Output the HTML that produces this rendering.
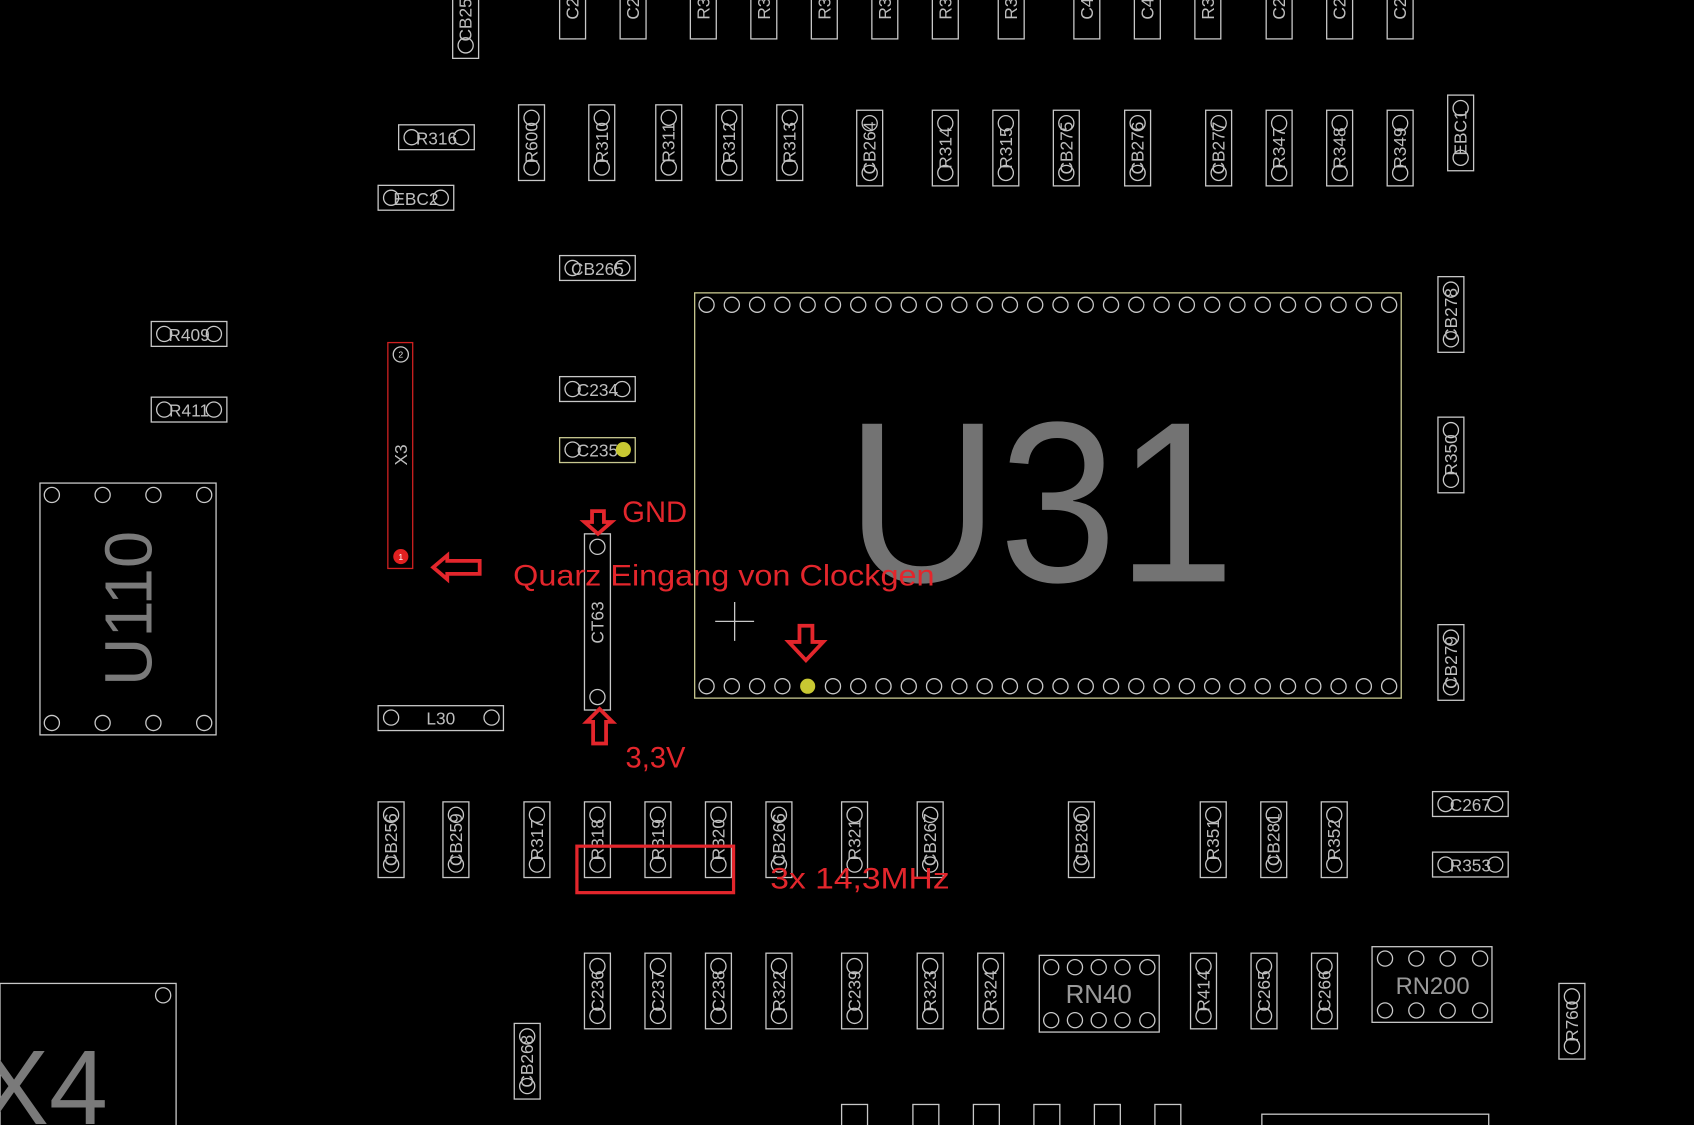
<!DOCTYPE html>
<html><head><meta charset="utf-8"><style>
html,body{margin:0;padding:0;background:#000;width:1694px;height:1125px;overflow:hidden}
svg{display:block}
.c rect,.c circle{fill:none;stroke:#c8c8c8;stroke-width:1.2}
text{font-family:"Liberation Sans",sans-serif}
.l{fill:#bdbdbd;font-size:16px;text-anchor:middle;dominant-baseline:central}
.a{fill:#e3262c;font-size:27px}
.ar{fill:none;stroke:#e3262c;stroke-width:3.5;stroke-linejoin:miter}
</style></head><body>
<svg width="1694" height="1125" viewBox="0 0 1568 1041" preserveAspectRatio="none">
<defs>
<g id="v" class="c"><rect x="-12" y="-35" width="24" height="70"/><circle cx="0" cy="-23" r="7"/><circle cx="0" cy="23" r="7"/></g>
<g id="h" class="c"><rect x="-35" y="-11.5" width="70" height="23"/><circle cx="-23" cy="0" r="7"/><circle cx="23" cy="0" r="7"/></g>
</defs>
<rect width="1568" height="1041" fill="#000"/>
<g class="c">
<rect x="419" y="-10" width="24" height="64"/><circle cx="431" cy="42" r="7"/>
<rect x="518" y="-10" width="24" height="46"/><rect x="574" y="-10" width="24" height="46"/>
<rect x="639" y="-10" width="24" height="46"/><rect x="695" y="-10" width="24" height="46"/>
<rect x="751" y="-10" width="24" height="46"/><rect x="807" y="-10" width="24" height="46"/>
<rect x="863" y="-10" width="24" height="46"/><rect x="924" y="-10" width="24" height="46"/>
<rect x="994" y="-10" width="24" height="46"/><rect x="1050" y="-10" width="24" height="46"/>
<rect x="1106" y="-10" width="24" height="46"/><rect x="1172" y="-10" width="24" height="46"/>
<rect x="1228" y="-10" width="24" height="46"/><rect x="1284" y="-10" width="24" height="46"/>
</g>
<text class="l" transform="translate(431,14) rotate(-90)">CB250</text>
<text class="l" transform="translate(530,8) rotate(-90)">C2</text>
<text class="l" transform="translate(586,8) rotate(-90)">C2</text>
<text class="l" transform="translate(651,8) rotate(-90)">R3</text>
<text class="l" transform="translate(707,8) rotate(-90)">R3</text>
<text class="l" transform="translate(763,8) rotate(-90)">R3</text>
<text class="l" transform="translate(819,8) rotate(-90)">R3</text>
<text class="l" transform="translate(875,8) rotate(-90)">R3</text>
<text class="l" transform="translate(936,8) rotate(-90)">R3</text>
<text class="l" transform="translate(1006,8) rotate(-90)">C4</text>
<text class="l" transform="translate(1062,8) rotate(-90)">C4</text>
<text class="l" transform="translate(1118,8) rotate(-90)">R3</text>
<text class="l" transform="translate(1184,8) rotate(-90)">C2</text>
<text class="l" transform="translate(1240,8) rotate(-90)">C2</text>
<text class="l" transform="translate(1296,8) rotate(-90)">C2</text>
<use href="#v" x="492" y="132"/><text class="l" transform="translate(492,132) rotate(-90)">R600</text>
<use href="#v" x="557" y="132"/><text class="l" transform="translate(557,132) rotate(-90)">R310</text>
<use href="#v" x="619" y="132"/><text class="l" transform="translate(619,132) rotate(-90)">R311</text>
<use href="#v" x="675" y="132"/><text class="l" transform="translate(675,132) rotate(-90)">R312</text>
<use href="#v" x="731" y="132"/><text class="l" transform="translate(731,132) rotate(-90)">R313</text>
<use href="#v" x="805" y="137"/><text class="l" transform="translate(805,137) rotate(-90)">CB264</text>
<use href="#v" x="875" y="137"/><text class="l" transform="translate(875,137) rotate(-90)">R314</text>
<use href="#v" x="931" y="137"/><text class="l" transform="translate(931,137) rotate(-90)">R315</text>
<use href="#v" x="987" y="137"/><text class="l" transform="translate(987,137) rotate(-90)">CB275</text>
<use href="#v" x="1053" y="137"/><text class="l" transform="translate(1053,137) rotate(-90)">CB276</text>
<use href="#v" x="1128" y="137"/><text class="l" transform="translate(1128,137) rotate(-90)">CB277</text>
<use href="#v" x="1184" y="137"/><text class="l" transform="translate(1184,137) rotate(-90)">R347</text>
<use href="#v" x="1240" y="137"/><text class="l" transform="translate(1240,137) rotate(-90)">R348</text>
<use href="#v" x="1296" y="137"/><text class="l" transform="translate(1296,137) rotate(-90)">R349</text>
<use href="#v" x="1352" y="123"/><text class="l" transform="translate(1352,123) rotate(-90)">EBC1</text>
<use href="#h" x="404" y="127"/><text class="l" x="404" y="128">R316</text>
<use href="#h" x="385" y="183"/><text class="l" x="385" y="184">EBC2</text>
<use href="#h" x="553" y="248"/><text class="l" x="553" y="249">CB265</text>
<use href="#h" x="175" y="309"/><text class="l" x="175" y="310">R409</text>
<use href="#h" x="175" y="379"/><text class="l" x="175" y="380">R411</text>
<use href="#h" x="553" y="360"/><text class="l" x="553" y="361">C234</text>
<rect x="518" y="405" width="70" height="23" fill="none" stroke="#c8c890" stroke-width="1.2"/>
<circle cx="530" cy="416" r="7" fill="none" stroke="#c8c8c8" stroke-width="1.2"/>
<text class="l" x="553" y="417">C235</text>
<circle cx="577" cy="416" r="7" fill="#c8c832"/>
<g class="c"><rect x="350" y="653" width="116" height="23"/><circle cx="362" cy="664" r="7"/><circle cx="455" cy="664" r="7"/></g>
<text class="l" x="408" y="665">L30</text>
<rect x="359" y="317" width="23" height="209" fill="none" stroke="#d02020" stroke-width="1.2"/>
<circle cx="371" cy="328" r="7" fill="none" stroke="#c8c8c8" stroke-width="1.2"/>
<text x="371" y="331" font-size="8" fill="#ddd" text-anchor="middle">2</text>
<circle cx="371" cy="515" r="7" fill="#e02020"/>
<text x="371" y="518" font-size="8" fill="#fff" text-anchor="middle">1</text>
<text class="l" transform="translate(371,421) rotate(-90)">X3</text>
<g class="c"><rect x="37" y="447" width="163" height="233"/>
<circle cx="48" cy="458" r="7"/><circle cx="95" cy="458" r="7"/><circle cx="142" cy="458" r="7"/><circle cx="189" cy="458" r="7"/>
<circle cx="48" cy="669" r="7"/><circle cx="95" cy="669" r="7"/><circle cx="142" cy="669" r="7"/><circle cx="189" cy="669" r="7"/></g>
<text transform="translate(140,563) rotate(-90)" font-size="62" fill="#7a7a7a" text-anchor="middle">U110</text>
<rect x="643" y="271" width="654" height="375" fill="none" stroke="#c8c890" stroke-width="1.2"/>
<g class="c">
<circle cx="654" cy="282" r="7"/><circle cx="677.4" cy="282" r="7"/><circle cx="700.8" cy="282" r="7"/><circle cx="724.2" cy="282" r="7"/><circle cx="747.6" cy="282" r="7"/><circle cx="771" cy="282" r="7"/><circle cx="794.4" cy="282" r="7"/><circle cx="817.8" cy="282" r="7"/><circle cx="841.2" cy="282" r="7"/><circle cx="864.6" cy="282" r="7"/><circle cx="888" cy="282" r="7"/><circle cx="911.4" cy="282" r="7"/><circle cx="934.8" cy="282" r="7"/><circle cx="958.2" cy="282" r="7"/><circle cx="981.6" cy="282" r="7"/><circle cx="1005" cy="282" r="7"/><circle cx="1028.4" cy="282" r="7"/><circle cx="1051.8" cy="282" r="7"/><circle cx="1075.2" cy="282" r="7"/><circle cx="1098.6" cy="282" r="7"/><circle cx="1122" cy="282" r="7"/><circle cx="1145.4" cy="282" r="7"/><circle cx="1168.8" cy="282" r="7"/><circle cx="1192.2" cy="282" r="7"/><circle cx="1215.6" cy="282" r="7"/><circle cx="1239" cy="282" r="7"/><circle cx="1262.4" cy="282" r="7"/><circle cx="1285.8" cy="282" r="7"/>
<circle cx="654" cy="635" r="7"/><circle cx="677.4" cy="635" r="7"/><circle cx="700.8" cy="635" r="7"/><circle cx="724.2" cy="635" r="7"/><circle cx="771" cy="635" r="7"/><circle cx="794.4" cy="635" r="7"/><circle cx="817.8" cy="635" r="7"/><circle cx="841.2" cy="635" r="7"/><circle cx="864.6" cy="635" r="7"/><circle cx="888" cy="635" r="7"/><circle cx="911.4" cy="635" r="7"/><circle cx="934.8" cy="635" r="7"/><circle cx="958.2" cy="635" r="7"/><circle cx="981.6" cy="635" r="7"/><circle cx="1005" cy="635" r="7"/><circle cx="1028.4" cy="635" r="7"/><circle cx="1051.8" cy="635" r="7"/><circle cx="1075.2" cy="635" r="7"/><circle cx="1098.6" cy="635" r="7"/><circle cx="1122" cy="635" r="7"/><circle cx="1145.4" cy="635" r="7"/><circle cx="1168.8" cy="635" r="7"/><circle cx="1192.2" cy="635" r="7"/><circle cx="1215.6" cy="635" r="7"/><circle cx="1239" cy="635" r="7"/><circle cx="1262.4" cy="635" r="7"/><circle cx="1285.8" cy="635" r="7"/>
</g>
<circle cx="747.6" cy="635" r="7" fill="#c8c832"/>
<text x="963" y="538" font-size="212" fill="#737373" text-anchor="middle" textLength="360" lengthAdjust="spacingAndGlyphs">U31</text>
<path d="M662 575H698M680 557V593" stroke="#c8c8c8" stroke-width="1.2"/>
<g class="c"><rect x="541" y="494" width="24" height="163"/><circle cx="553" cy="506" r="7"/><circle cx="553" cy="645" r="7"/></g>
<text class="l" transform="translate(553,576) rotate(-90)">CT63</text>
<use href="#v" x="1343" y="291"/><text class="l" transform="translate(1343,291) rotate(-90)">CB278</text>
<use href="#v" x="1343" y="421"/><text class="l" transform="translate(1343,421) rotate(-90)">R350</text>
<use href="#v" x="1343" y="613"/><text class="l" transform="translate(1343,613) rotate(-90)">CB279</text>
<use href="#v" x="362" y="777"/><text class="l" transform="translate(362,777) rotate(-90)">CB256</text>
<use href="#v" x="422" y="777"/><text class="l" transform="translate(422,777) rotate(-90)">CB259</text>
<use href="#v" x="497" y="777"/><text class="l" transform="translate(497,777) rotate(-90)">R317</text>
<use href="#v" x="553" y="777"/><text class="l" transform="translate(553,777) rotate(-90)">R318</text>
<use href="#v" x="609" y="777"/><text class="l" transform="translate(609,777) rotate(-90)">R319</text>
<use href="#v" x="665" y="777"/><text class="l" transform="translate(665,777) rotate(-90)">R320</text>
<use href="#v" x="721" y="777"/><text class="l" transform="translate(721,777) rotate(-90)">CB266</text>
<use href="#v" x="791" y="777"/><text class="l" transform="translate(791,777) rotate(-90)">R321</text>
<use href="#v" x="861" y="777"/><text class="l" transform="translate(861,777) rotate(-90)">CB267</text>
<use href="#v" x="1001" y="777"/><text class="l" transform="translate(1001,777) rotate(-90)">CB280</text>
<use href="#v" x="1123" y="777"/><text class="l" transform="translate(1123,777) rotate(-90)">R351</text>
<use href="#v" x="1179" y="777"/><text class="l" transform="translate(1179,777) rotate(-90)">CB281</text>
<use href="#v" x="1235" y="777"/><text class="l" transform="translate(1235,777) rotate(-90)">R352</text>
<use href="#h" x="1361" y="744"/><text class="l" x="1361" y="745">C267</text>
<use href="#h" x="1361" y="800"/><text class="l" x="1361" y="801">R353</text>
<use href="#v" x="553" y="917"/><text class="l" transform="translate(553,917) rotate(-90)">C236</text>
<use href="#v" x="609" y="917"/><text class="l" transform="translate(609,917) rotate(-90)">C237</text>
<use href="#v" x="665" y="917"/><text class="l" transform="translate(665,917) rotate(-90)">C238</text>
<use href="#v" x="721" y="917"/><text class="l" transform="translate(721,917) rotate(-90)">R322</text>
<use href="#v" x="791" y="917"/><text class="l" transform="translate(791,917) rotate(-90)">C239</text>
<use href="#v" x="861" y="917"/><text class="l" transform="translate(861,917) rotate(-90)">R323</text>
<use href="#v" x="917" y="917"/><text class="l" transform="translate(917,917) rotate(-90)">R324</text>
<use href="#v" x="1114" y="917"/><text class="l" transform="translate(1114,917) rotate(-90)">R414</text>
<use href="#v" x="1170" y="917"/><text class="l" transform="translate(1170,917) rotate(-90)">C265</text>
<use href="#v" x="1226" y="917"/><text class="l" transform="translate(1226,917) rotate(-90)">C266</text>
<use href="#v" x="1455" y="945"/><text class="l" transform="translate(1455,945) rotate(-90)">R760</text>
<use href="#v" x="488" y="982"/><text class="l" transform="translate(488,982) rotate(-90)">CB268</text>
<g class="c"><rect x="962" y="884" width="111" height="71"/>
<circle cx="973" cy="895" r="7"/><circle cx="995" cy="895" r="7"/><circle cx="1017" cy="895" r="7"/><circle cx="1039" cy="895" r="7"/><circle cx="1062" cy="895" r="7"/>
<circle cx="973" cy="944" r="7"/><circle cx="995" cy="944" r="7"/><circle cx="1017" cy="944" r="7"/><circle cx="1039" cy="944" r="7"/><circle cx="1062" cy="944" r="7"/>
<rect x="1270" y="876" width="111" height="70"/>
<circle cx="1282" cy="887" r="7"/><circle cx="1311" cy="887" r="7"/><circle cx="1340" cy="887" r="7"/><circle cx="1370" cy="887" r="7"/>
<circle cx="1282" cy="935" r="7"/><circle cx="1311" cy="935" r="7"/><circle cx="1340" cy="935" r="7"/><circle cx="1370" cy="935" r="7"/>
<rect x="0" y="910" width="163" height="140"/><circle cx="151" cy="921" r="7"/>
<rect x="779" y="1022" width="24" height="40"/><rect x="845" y="1022" width="24" height="40"/><rect x="901" y="1022" width="24" height="40"/><rect x="957" y="1022" width="24" height="40"/><rect x="1013" y="1022" width="24" height="40"/><rect x="1069" y="1022" width="24" height="40"/>
<rect x="1168" y="1031" width="210" height="30"/>
</g>
<text x="1017" y="928" font-size="24" fill="#9a9a9a" text-anchor="middle">RN40</text>
<text x="1326" y="920" font-size="22" fill="#9a9a9a" text-anchor="middle">RN200</text>
<text x="-20" y="1040" font-size="98" fill="#7a7a7a">X4</text>
<rect x="534" y="783" width="145" height="43" fill="none" stroke="#e3262c" stroke-width="3"/>
<path class="ar" d="M548 473H559V483H566L553.5 494L541 483H548Z"/>
<path class="ar" d="M401 525L414 514V519H444V531H414V536Z"/>
<path class="ar" d="M555 656L567 668H561V688H549V668H543Z"/>
<path class="ar" d="M740 579H752V594H762L746 611L730 594H740Z"/>
<text class="a" x="576" y="483">GND</text>
<text class="a" x="475" y="542" textLength="390" lengthAdjust="spacingAndGlyphs">Quarz Eingang von Clockgen</text>
<text class="a" x="579" y="710">3,3V</text>
<text class="a" x="713" y="822" textLength="166" lengthAdjust="spacingAndGlyphs">3x 14,3MHz</text>
</svg>
</body></html>
